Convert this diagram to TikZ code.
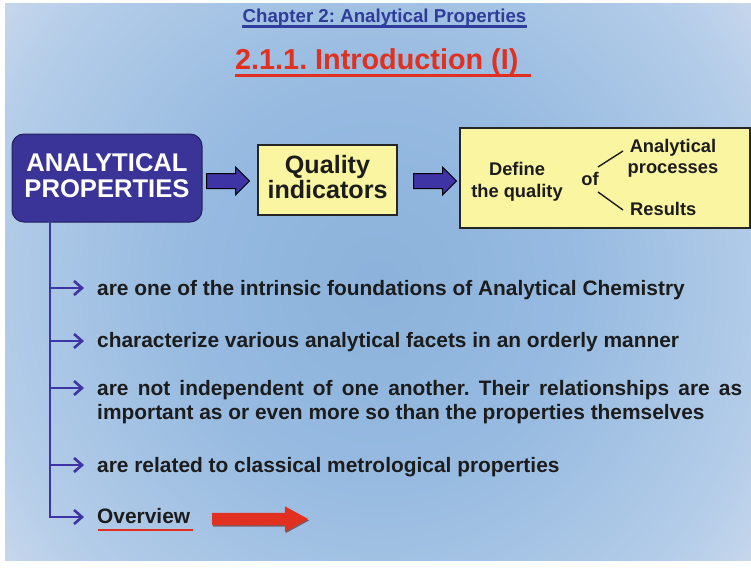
\documentclass[tikz,border=0pt]{standalone}
\usepackage{fontspec}
\setmainfont{Liberation Sans}
\usetikzlibrary{arrows.meta,shapes.arrows,calc,shadows}
\frenchspacing
\definecolor{indfill}{RGB}{58,52,152}
\definecolor{indline}{RGB}{62,52,165}
\definecolor{ybox}{RGB}{250,245,160}
\definecolor{redc}{RGB}{225,48,31}
\definecolor{chap}{RGB}{46,60,154}
\definecolor{txt}{RGB}{28,28,28}
\pgfdeclareradialshading{bgshade}{\pgfpoint{0bp}{0bp}}{rgb(0bp)=(0.55,0.70,0.86); rgb(13bp)=(0.59,0.73,0.88); rgb(26bp)=(0.70,0.80,0.91); rgb(35bp)=(0.84,0.87,0.94); rgb(44bp)=(0.95,0.91,0.97); rgb(100bp)=(0.96,0.91,0.97)}
\newcommand\fsz[2]{\fontsize{#1}{#2}\selectfont}
\tikzset{
  propbox/.style={draw=indfill!60!black, fill=indfill, line width=1pt, rounded corners=12pt,
    minimum width=190pt, minimum height=88pt, text=white, align=center,
    font=\fsz{25.6}{26}\bfseries},
  yellowbox/.style={draw=black!85, fill=ybox, line width=2pt},
  blockarr/.style={single arrow, draw=black, line width=1pt, fill=indline, minimum height=43pt,
    inner xsep=0pt, inner ysep=7pt, single arrow head extend=6.5pt, anchor=tail},
  redarr/.style={single arrow, draw=none, fill=redc, minimum height=96pt,
    inner xsep=0pt, inner ysep=6pt, single arrow head extend=6.5pt, single arrow tip angle=57,
    anchor=tail,
    drop shadow={shadow xshift=0.8pt, shadow yshift=-1.5pt, fill=redc!45!black, opacity=0.6}},
  trunk/.style={draw=indline, line width=2.6pt, -{Straight Barb[length=8pt,width=14pt]}},
  item/.style={anchor=base west, inner sep=0pt, text=txt, font=\fsz{20.9}{24}\bfseries},
  intext/.style={inner sep=0pt, text=txt, font=\fsz{18.3}{21}\bfseries, align=center},
  plain/.style={inner sep=0pt},
}
\begin{document}
\begin{tikzpicture}[x=1pt,y=-1pt]
\useasboundingbox (0,0) rectangle (751,567);
\fill[white] (0,0) rectangle (751,567);
\begin{scope}
\clip (5,4) rectangle (751,560);
\shade[shading=bgshade] (5,-100) rectangle (751,664);
\end{scope}

% titles
\node[plain, anchor=base, text=chap, font=\fsz{18.7}{22}\bfseries] (chap) at (384.5,22.5) {Chapter 2: Analytical Properties};
\draw[chap, line width=2.6pt] ($(chap.base west)+(0,3.8)$) -- ($(chap.base east)+(0,3.8)$);
\node[plain, anchor=base west, text=redc, font=\fsz{28.8}{32}\bfseries] (title) at (235,70) {2.1.1. Introduction (I)};
\draw[redc, line width=3pt] ($(title.base west)+(0,5.5)$) -- ++(296,0);

% top row
\node[propbox] (ap) at (107,178) {ANALYTICAL\\PROPERTIES\rule[-5pt]{0pt}{5pt}};
\node[yellowbox, minimum width=139pt, minimum height=70pt, align=center, text=txt,
      font=\fsz{25.1}{25}\bfseries] (qi) at (327.5,180) {Quality\\indicators\rule[-7pt]{0pt}{7pt}};
\node[yellowbox, minimum width=290pt, minimum height=100pt] (dq) at (605,178) {};
\node[blockarr] (a1) at (206,181) {};
\node[blockarr] (a2) at (413,181) {};

% inside box 3
\node[intext, font=\fsz{18.3}{22}\bfseries] (def) at (517,181.5) {Define\\the quality};
\node[plain, anchor=base, text=txt, font=\fsz{18.3}{21}\bfseries] (of) at (590,185) {of};
\node[intext] (anp) at (673,158) {Analytical\\processes};
\node[plain, anchor=base west, text=txt, font=\fsz{18.3}{21}\bfseries] (res) at (630,215) {Results};
\coordinate (u1) at (598,167);
\coordinate (u2) at (623,151);
\coordinate (d1) at (598,192);
\coordinate (d2) at (623,210);
\draw[txt, line width=1.4pt] (u1) -- (u2);
\draw[txt, line width=1.4pt] (d1) -- (d2);

% branches
\coordinate (tr) at (50,221);
\coordinate (e1) at (84,288);
\coordinate (e2) at (84,341);
\coordinate (e3) at (84,388);
\coordinate (e4) at (84,465);
\coordinate (e5) at (84,517);
\draw[trunk] (tr) |- (e5);
\foreach \i in {1,2,3,4} { \draw[trunk] (tr |- e\i) -- (e\i); }

\node[item] (t1) at (97,295.5) {are one of the intrinsic foundations of Analytical Chemistry};
\node[item] (t2) at (97,347.5) {characterize various analytical facets in an orderly manner};
\node[item] (t3) at (97,395.5) {\parbox[t]{645pt}{\makebox[\linewidth][s]{are not independent of one another. Their relationships are as}\\important as or even more so than the properties themselves}};
\node[item] (t4) at (97,472.5) {are related to classical metrological properties};
\node[item] (t5) at (97,523.5) {Overview};
\draw[redc, line width=2pt] ($(t5.base west)+(1,6)$) -- ++(95,0);
\node[redarr] (ra) at (212,519) {};
\end{tikzpicture}
\end{document}
